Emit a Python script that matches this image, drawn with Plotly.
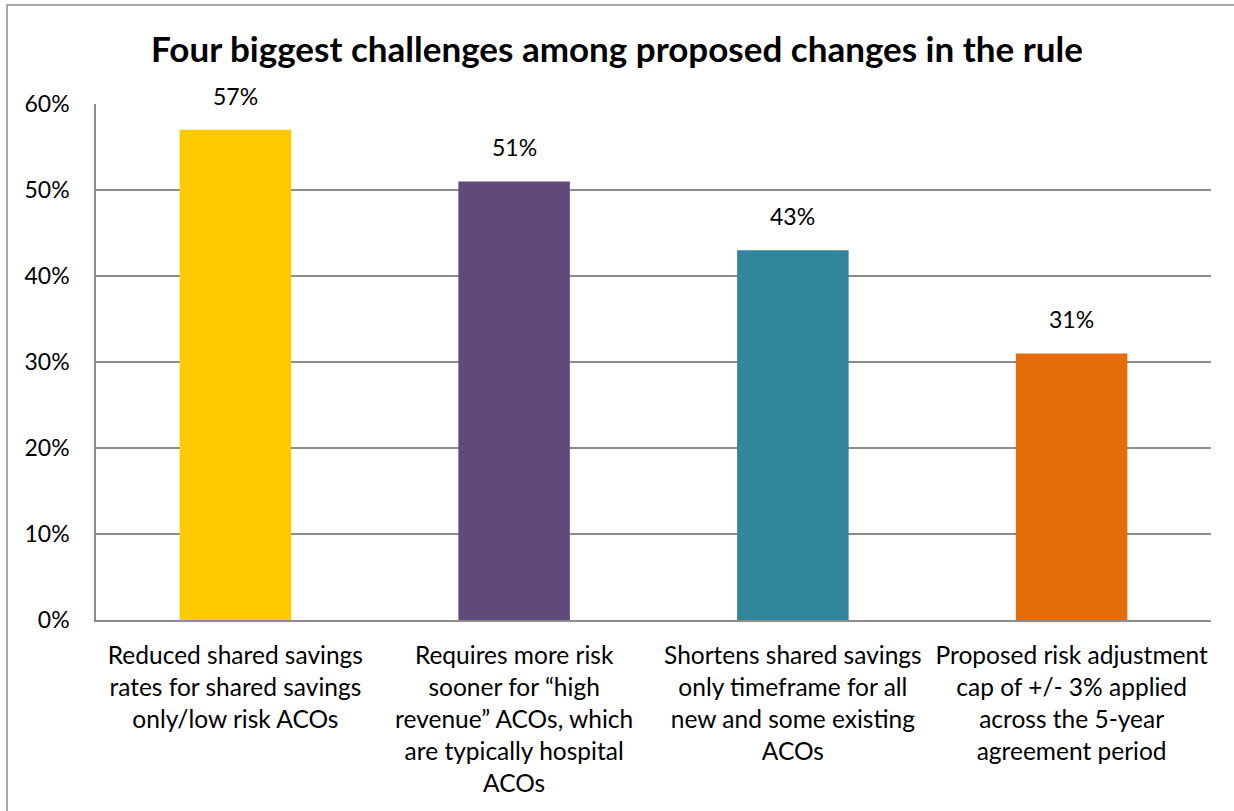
import plotly.graph_objects as go

# Survey results: share of ACOs naming each proposed rule change as a top challenge
categories = [
    "Reduced shared savings<br>rates for shared savings<br>only/low risk ACOs",
    "Requires more risk<br>sooner for \u201chigh<br>revenue\u201d ACOs, which<br>are typically hospital<br>ACOs",
    "Shortens shared savings<br>only timeframe for all<br>new and some existing<br>ACOs",
    "Proposed risk adjustment<br>cap of +/- 3% applied<br>across the 5-year<br>agreement period",
]
values = [57, 51, 43, 31]
bar_colors = ["#FFCA00", "#604A7B", "#31859C", "#E46C0A"]
y_ticks = [0, 10, 20, 30, 40, 50, 60]
y_tick_labels = ["0%", "10%", "20%", "30%", "40%", "50%", "60%"]

FONT = "Lato, 'Open Sans', sans-serif"
W, H = 1234, 811
ML, MR, MT, MB = 96, 23, 104, 191

fig = go.Figure(
    go.Bar(
        x=list(range(len(categories))),
        y=values,
        marker=dict(color=bar_colors, line=dict(width=0)),
        width=0.40,
        hoverinfo="skip",
    )
)

# value labels above each bar
for i, v in enumerate(values):
    fig.add_annotation(
        x=i, y=v, text=f"{v}%", showarrow=False,
        yanchor="bottom", yshift=18,
        font=dict(family=FONT, size=23, color="#000000"),
    )

# outer chart frame
pw, ph = W - ML - MR, H - MT - MB
fig.add_shape(
    type="rect", xref="paper", yref="paper",
    x0=(7 - ML) / pw, x1=(W + 5 - ML) / pw,
    y0=(H - MB - (H + 5)) / ph, y1=(H - MB - 5) / ph,
    line=dict(color="#8C8C8C", width=1.5), fillcolor="rgba(0,0,0,0)",
    layer="below",
)

fig.update_layout(
    width=W, height=H,
    margin=dict(l=ML, r=MR, t=MT, b=MB),
    paper_bgcolor="white", plot_bgcolor="white",
    showlegend=False,
    bargap=0.6,
    title=dict(
        text="<b>Four biggest challenges among proposed changes in the rule</b>",
        x=0.5, xanchor="center", y=1 - 50 / H, yanchor="middle",
        font=dict(family=FONT, size=35, color="#000000"),
    ),
    font=dict(family=FONT, size=23, color="#000000"),
    xaxis=dict(
        tickmode="array", tickvals=list(range(len(categories))), ticktext=categories,
        range=[-0.5, len(categories) - 0.5],
        showgrid=False, zeroline=False,
        showline=True, linecolor="#8C8C8C", linewidth=2,
        ticks="", ticklen=0, tickangle=0, ticklabelstandoff=13,
        tickfont=dict(family=FONT, size=24.5, color="#000000"),
    ),
    yaxis=dict(
        range=[0, 60], tickvals=y_ticks, ticktext=y_tick_labels,
        showgrid=True, gridcolor="#8C8C8C", gridwidth=1.5,
        zeroline=False,
        showline=True, linecolor="#8C8C8C", linewidth=1.5,
        ticks="", ticklabelstandoff=20,
        tickfont=dict(family=FONT, size=23, color="#000000"),
    ),
)

fig.write_html("out.html")
